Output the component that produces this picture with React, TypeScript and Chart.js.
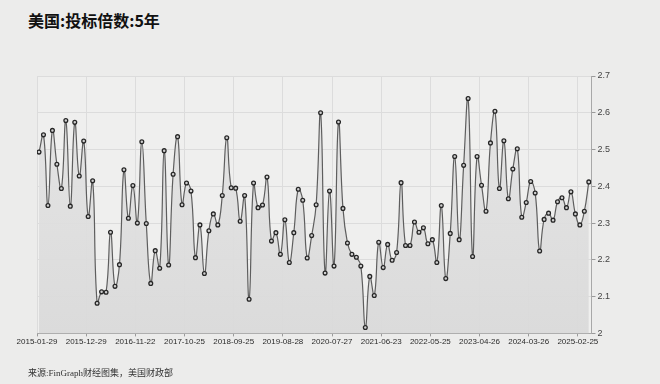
import React, { useEffect, useRef } from "react";
import { Chart, registerables } from "chart.js";

Chart.register(...registerables);

const TITLE = "美国:投标倍数:5年";
const SOURCE = "来源:FinGraph财经图集，美国财政部";

const tickLabels = [
  "2015-01-29", "2015-12-29", "2016-11-22", "2017-10-25", "2018-09-25", "2019-08-28",
  "2020-07-27", "2021-06-23", "2022-05-25", "2023-04-26", "2024-03-26", "2025-02-25",
];

const values2015_2016 = [
  2.493, 2.54, 2.348, 2.552, 2.46, 2.394, 2.579, 2.346, 2.574, 2.428, 2.523, 2.318,
  2.415, 2.082, 2.113, 2.112, 2.275, 2.128, 2.187, 2.445, 2.313, 2.402, 2.30, 2.521,
];
const values2017_2018 = [
  2.299, 2.136, 2.225, 2.177, 2.497, 2.186, 2.433, 2.535, 2.35, 2.409, 2.387, 2.206,
  2.295, 2.163, 2.279, 2.325, 2.295, 2.375, 2.532, 2.396, 2.395, 2.305, 2.375, 2.093,
];
const values2019_2020 = [
  2.409, 2.342, 2.349, 2.425, 2.251, 2.274, 2.215, 2.309, 2.193, 2.274, 2.392, 2.362,
  2.205, 2.266, 2.35, 2.60, 2.164, 2.387, 2.183, 2.575, 2.34, 2.246, 2.215, 2.207,
];
const values2021_2022 = [
  2.183, 2.016, 2.155, 2.103, 2.248, 2.179, 2.242, 2.199, 2.22, 2.41, 2.239, 2.239,
  2.303, 2.275, 2.287, 2.244, 2.255, 2.193, 2.348, 2.149, 2.272, 2.481, 2.255, 2.457,
];
const values2023_2024 = [
  2.639, 2.209, 2.481, 2.403, 2.332, 2.518, 2.604, 2.394, 2.524, 2.366, 2.447, 2.502,
  2.316, 2.356, 2.413, 2.382, 2.224, 2.31, 2.327, 2.308, 2.358, 2.369, 2.342, 2.385,
];
const values2025 = [2.325, 2.295, 2.332, 2.412];

const values = [
  ...values2015_2016, ...values2017_2018, ...values2019_2020,
  ...values2021_2022, ...values2023_2024, ...values2025,
];

const TICK_STEP = 11;
const TICK_SHIFT = -0.45;

export default function App() {
  const ref = useRef<HTMLCanvasElement | null>(null);

  useEffect(() => {
    document.body.style.margin = "0";
    document.body.style.background = "#ececeb";
    const canvas = ref.current;
    if (!canvas) return;

    const bgPlugin = {
      id: "plotBg",
      beforeDraw(chart: any) {
        const { ctx, chartArea } = chart;
        ctx.save();
        ctx.fillStyle = "#efefee";
        ctx.fillRect(chartArea.left, chartArea.top, chartArea.right - chartArea.left, chartArea.bottom - chartArea.top);
        ctx.restore();
      },
    };

    const chart = new Chart(canvas, {
      type: "line",
      data: {
        datasets: [
          {
            data: values.map((v, i) => ({ x: i, y: v })),
            borderColor: "#5e5e5e",
            borderWidth: 1.2,
            tension: 0.45,
            fill: "start",
            backgroundColor: (c: any) => {
              const { chart: ch } = c;
              const area = ch.chartArea;
              if (!area) return "rgba(210,210,210,0.6)";
              const g = ch.ctx.createLinearGradient(0, area.top, 0, area.bottom);
              g.addColorStop(0, "rgba(228,228,228,0.9)");
              g.addColorStop(1, "rgba(218,218,218,0.95)");
              return g;
            },
            pointRadius: 1.9,
            pointBorderWidth: 1.3,
            pointBorderColor: "#262626",
            pointBackgroundColor: "#d0d0d0",
          },
        ],
      },
      options: {
        animation: false,
        responsive: false,
        maintainAspectRatio: false,
        layout: { padding: { left: 37, right: 48, top: 76, bottom: 36 } },
        plugins: { legend: { display: false }, tooltip: { enabled: false }, title: { display: false } },
        scales: {
          x: {
            type: "linear",
            min: TICK_SHIFT,
            max: values.length - 1 + 0.6,
            afterBuildTicks: (scale: any) => {
              scale.ticks = tickLabels.map((_, k) => ({ value: k * TICK_STEP + TICK_SHIFT }));
            },
            ticks: {
              autoSkip: false,
              maxRotation: 0,
              padding: 1,
              color: "#2b2b2b",
              font: { family: "Liberation Sans, Arial, sans-serif", size: 8 },
              callback: (_v: any, idx: number) => tickLabels[idx],
            },
            grid: { color: "#dcdcdc", tickColor: "#9a9a9a", tickLength: 3, lineWidth: 1 },
            border: { display: true, color: "#a8a8a8" },
          },
          y: {
            position: "right",
            min: 2,
            max: 2.7,
            ticks: {
              stepSize: 0.1,
              padding: 2,
              color: "#444",
              font: { family: "Liberation Sans, Arial, sans-serif", size: 9 },
              callback: (v: any) => String(Number(Number(v).toFixed(1))),
            },
            grid: { color: "#dcdcdc", tickColor: "#9a9a9a", tickLength: 4 },
            border: { display: true, color: "#a8a8a8" },
          },
        },
      },
      plugins: [bgPlugin],
    });
    return () => chart.destroy();
  }, []);

  return (
    <div style={{ position: "relative", width: 660, height: 384, background: "#ececeb", overflow: "hidden" }}>
      <div
        style={{
          position: "absolute", left: 28, top: 8, fontSize: 16, fontWeight: 700, color: "#111",
          fontFamily: "'Noto Sans CJK SC', 'Noto Sans', sans-serif", lineHeight: "24px",
        }}
      >
        {TITLE}
      </div>
      <canvas ref={ref} width={660} height={384} style={{ position: "absolute", left: 0, top: 0, width: 660, height: 384 }} />
      <div
        style={{
          position: "absolute", left: 28, top: 366, fontSize: 9, color: "#333",
          fontFamily: "'Liberation Serif', 'Noto Sans CJK SC', serif", lineHeight: "14px",
        }}
      >
        {SOURCE}
      </div>
    </div>
  );
}
